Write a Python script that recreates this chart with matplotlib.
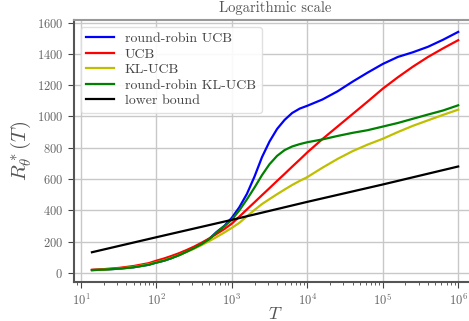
import matplotlib
matplotlib.use("Agg")
import matplotlib.pyplot as plt
import numpy as np

T = [14, 20, 32, 50, 79, 100, 126, 158, 200, 251, 316, 398, 501, 631, 794,
     1000, 1259, 1585, 1995, 2512, 3162, 3981, 5012, 6310, 7943,
     10000, 15849, 25119, 39811, 63096, 100000, 158489, 251189, 398107,
     630957, 1000000]

rr_ucb = [18, 21, 27, 36, 52, 66, 78, 94, 114, 136, 160, 186, 217, 262, 300,
          352, 420, 505, 615, 740, 840, 920, 978, 1022, 1050,
          1068, 1108, 1160, 1222, 1280, 1335, 1380, 1410, 1445, 1490, 1540]
ucb = [20, 24, 32, 44, 62, 78, 92, 108, 126, 146, 168, 193, 220, 250, 280,
       315, 360, 406, 451, 497, 542, 588, 633, 679, 724,
       770, 855, 935, 1015, 1095, 1177, 1250, 1318, 1380, 1435, 1487]
kl_ucb = [18, 21, 28, 38, 55, 68, 80, 96, 114, 134, 155, 178, 203, 230, 258,
          288, 320, 362, 402, 440, 472, 503, 533, 562, 588,
          612, 672, 728, 778, 820, 857, 900, 940, 975, 1010, 1043]
rr_kl_ucb = [18, 21, 27, 36, 52, 66, 78, 94, 113, 135, 158, 184, 215, 260, 298,
             340, 400, 470, 545, 625, 695, 748, 785, 808, 823,
             835, 853, 875, 895, 912, 935, 958, 985, 1012, 1038, 1071]
lb_T = [14, 100, 1000, 10000, 100000, 1000000]
lower_bound = [132, 228, 339, 454, 565, 680]

series = [
    ("round-robin UCB", rr_ucb, "b"),
    ("UCB", ucb, "r"),
    ("KL-UCB", kl_ucb, "y"),
    ("round-robin KL-UCB", rr_kl_ucb, "g"),
]

plt.rcParams['font.family'] = 'serif'
plt.rcParams['font.serif'] = ['cmr10']
plt.rcParams['mathtext.fontset'] = 'cm'
plt.rcParams['axes.formatter.use_mathtext'] = True

fig = plt.figure(figsize=(4.69, 3.21), dpi=100)
ax = fig.add_axes([0.157, 0.1215, 0.859, 0.8162])

for name, vals, c in series:
    ax.plot(T, vals, color=c, lw=1.6, label=name)
ax.plot(lb_T, lower_bound, color="k", lw=1.6, label="lower bound")

ax.set_xscale("log")
ax.set_yticks(np.arange(0, 1601, 200))
ax.grid(True, which="major", color="#c8c8c8", lw=1.0)
ax.set_axisbelow(True)

for s in ["left", "bottom"]:
    ax.spines[s].set_color("#555555")
    ax.spines[s].set_linewidth(1.5)
ax.spines["top"].set_color("#999999")
ax.spines["top"].set_linewidth(1.5)
ax.spines["right"].set_visible(False)

ax.tick_params(axis="both", which="major", labelsize=9, colors="#444444",
               labelcolor="#666666", length=4, direction="out")
ax.tick_params(axis="x", which="minor", length=2, colors="#444444")

ax.set_title("Logarithmic scale", fontsize=10.5, color="#555555")
ax.set_xlabel(r"$T$", fontsize=13, color="#555555", labelpad=-2)
ax.set_ylabel(r"$R^*_\theta(T)$", fontsize=15, color="#555555", labelpad=3)

leg = ax.legend(loc="upper left", fontsize=10, frameon=True, framealpha=0.9,
                edgecolor="#dddddd", handlelength=2.0, borderpad=0.4,
                labelspacing=0.2)
for t in leg.get_texts():
    t.set_color("#444444")

fig.savefig("out.png", dpi=100)
